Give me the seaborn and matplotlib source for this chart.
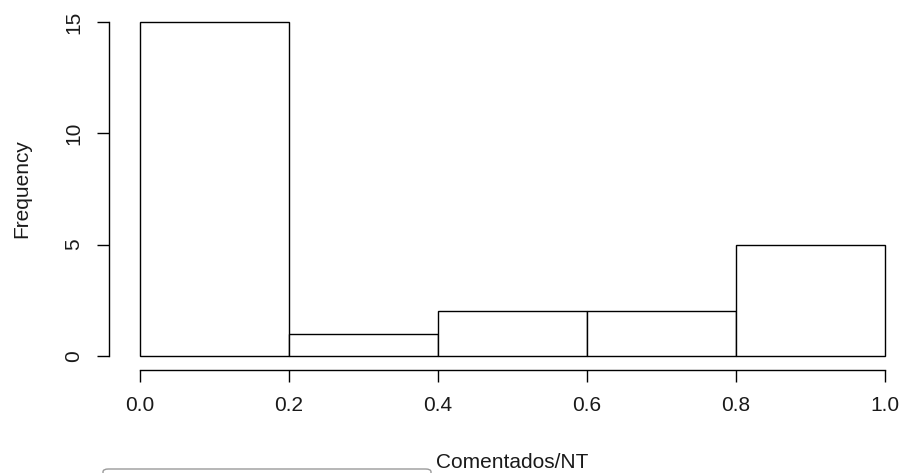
import matplotlib
matplotlib.use("Agg")
import matplotlib.pyplot as plt
from matplotlib.patches import FancyBboxPatch
import seaborn as sns
import numpy as np

bin_edges = [0.0, 0.2, 0.4, 0.6, 0.8, 1.0]
counts = [15, 1, 2, 2, 5]
x_ticks = [0.0, 0.2, 0.4, 0.6, 0.8, 1.0]
x_tick_labels = ["0.0", "0.2", "0.4", "0.6", "0.8", "1.0"]
y_ticks = [0, 5, 10, 15]
y_tick_labels = ["0", "5", "10", "15"]

sns.set_style("white")
plt.rcParams['font.family'] = ['Liberation Sans', 'DejaVu Sans']

W, H = 903, 473
fig = plt.figure(figsize=(W / 100, H / 100), dpi=100)
ax = fig.add_axes([140 / W, 1 - 356 / H, (885 - 140) / W, (356 - 22) / H])

centers = [(a + b) / 2 for a, b in zip(bin_edges[:-1], bin_edges[1:])]
sns.histplot(x=centers, weights=counts, bins=bin_edges, ax=ax,
             color="white", edgecolor="black", linewidth=1.0, alpha=1.0)
for p in ax.patches:
    p.set_clip_on(False)

ax.set_xlim(0, 1)
ax.set_ylim(0, 15)
for s in ["top", "right"]:
    ax.spines[s].set_visible(False)
ax.spines["left"].set_position(("outward", 31 * 0.72))
ax.spines["bottom"].set_position(("outward", 14 * 0.72))
ax.spines["left"].set_bounds(0, 15)
ax.spines["bottom"].set_bounds(0, 1)
for s in ["left", "bottom"]:
    ax.spines[s].set_color("black")
    ax.spines[s].set_linewidth(1.0)

ax.set_xticks(x_ticks)
ax.set_xticklabels(x_tick_labels)
ax.set_yticks(y_ticks)
ax.set_yticklabels(y_tick_labels, rotation=90, va="center")
ax.tick_params(axis="both", which="major", length=12 * 0.72, width=1.0,
               color="black", labelsize=15, labelcolor="#1a1a1a",
               direction="out", bottom=True, left=True)
ax.tick_params(axis="x", pad=10)
ax.tick_params(axis="y", pad=10)

ax.set_xlabel("")
ax.set_ylabel("")
fig.text(512.5 / W, 1 - 462 / H, "Comentados/NT", ha="center", va="center",
         fontsize=15, color="#1a1a1a")
fig.text(22 / W, 1 - 189 / H, "Frequency", ha="center", va="center",
         rotation=90, fontsize=15, color="#1a1a1a")

box = FancyBboxPatch((103 / W, 1 - 480 / H), (431 - 103) / W, 11 / H,
                     boxstyle="round,pad=0,rounding_size=0.006",
                     transform=fig.transFigure, facecolor="white",
                     edgecolor="#9a9a9a", linewidth=1.0, clip_on=False)
fig.patches.append(box)

fig.savefig("out.png", dpi=100)
